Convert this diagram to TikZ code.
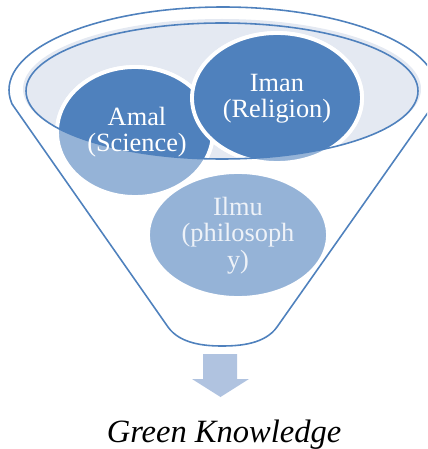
\documentclass[tikz,border=0pt]{standalone}
\usepackage{fontspec}
\setmainfont{Liberation Serif}
\definecolor{dkblue}{HTML}{4F81BD}
\definecolor{ltblue}{HTML}{95B3D7}
\definecolor{rimfill}{HTML}{E4E9F2}
\definecolor{arrowblue}{HTML}{B0C3E0}
\definecolor{lighttext}{HTML}{EEF2F8}
\begin{document}
\begin{tikzpicture}[x=0.02cm,y=-0.02cm,
  funnelline/.style={draw=dkblue,line width=0.9pt,line join=round},
  bubbledark/.style={fill=dkblue,draw=white,line width=2.2pt},
  bubblelight/.style={fill=ltblue,draw=white,line width=2.2pt},
  bubbletext/.style={font=\fontsize{15}{15}\selectfont,align=center,text=white,inner sep=0pt}]
\useasboundingbox (0,0) rectangle (427,449);
\clip (0,0) rectangle (427,449);
% rim fill
\fill[rimfill] (222,89) ellipse [x radius=199, y radius=70];
% light layer (outside the mouth)
\filldraw[bubblelight] (135,132) ellipse [x radius=78, y radius=65];
\filldraw[bubblelight] (277,98) ellipse [x radius=85, y radius=65];
\filldraw[bubblelight] (238,235) ellipse [x radius=90, y radius=63];
% dark layer (inside the mouth)
\begin{scope}
\clip (222,91) ellipse [x radius=196, y radius=68];
\filldraw[bubbledark] (135,132) ellipse [x radius=78, y radius=65];
\filldraw[bubbledark] (277,98) ellipse [x radius=85, y radius=65];
\end{scope}
% inner rim outline
\draw[funnelline] (222,91) ellipse [x radius=196, y radius=68];
% outer rim and funnel body
\begin{scope}
\clip (-10,-10) rectangle (450,104.6);
\draw[funnelline] (223,90) ellipse [x radius=214, y radius=83];
\end{scope}
\draw[funnelline] (12.3,104.4) -- (168,327) .. controls (180,344) and (205,346) .. (222,346) .. controls (240,346) and (265,344) .. (277,327) -- (433.7,104.4);
% texts
\node[bubbletext] (amal) at (137,132.4) {Amal\\(Science)};
\node[bubbletext] (iman) at (277,99) {Iman\\(Religion)};
\node[bubbletext,text=lighttext] (ilmu) at (238,235.4) {Ilmu\\(philosoph\\y)};
% arrow
\fill[arrowblue] (203,354) -- (237,354) -- (237,379) -- (249,379) -- (220.5,397) -- (192,379) -- (203,379) -- cycle;
\node[font=\fontsize{18.5}{20}\selectfont\itshape,anchor=base,inner sep=0pt] (gk) at (224,442) {Green Knowledge};
\end{tikzpicture}
\end{document}
